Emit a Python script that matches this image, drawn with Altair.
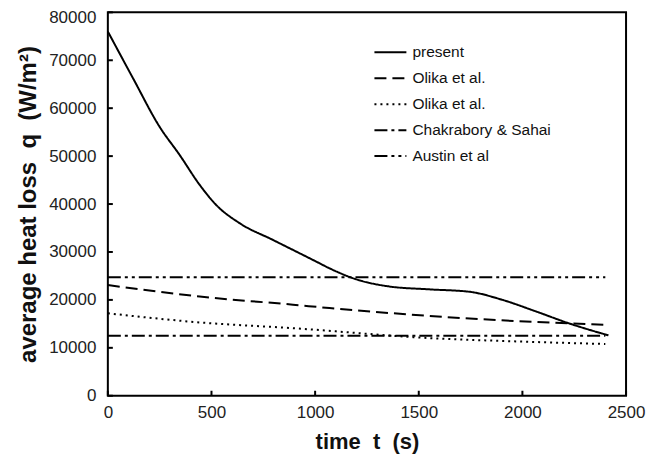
import altair as alt
import pandas as pd

# ---- data ----
present_t = [0, 122, 250, 347, 443, 523, 636, 797, 1005, 1069, 1198, 1358, 1551, 1744, 1904, 2065, 2225, 2415]
present_q = [76000, 66200, 56100, 50200, 44000, 39800, 36000, 32500, 28000, 26600, 24300, 22800, 22200, 21700, 20000, 17600, 15100, 12600]

olika1_t = [0, 443, 893, 1069, 1711, 2400]
olika1_q = [23100, 20700, 19000, 18300, 16200, 14800]

olika2_t = [0, 443, 893, 1565, 2000, 2400]
olika2_q = [17200, 15300, 14100, 12000, 11300, 10800]

chak_t = [0, 2400]
chak_q = [12500, 12500]

austin_t = [0, 2400]
austin_q = [24700, 24700]

series_names = ["present", "Olika et al.", "Olika et al. ", "Chakrabory & Sahai", "Austin et al"]
dash_styles = [[1, 0], [12, 6], [2, 4], [13, 4, 3, 4], [13, 4, 3, 4, 3, 4]]

x_ticks = [0, 500, 1000, 1500, 2000, 2500]
y_ticks = [0, 10000, 20000, 30000, 40000, 50000, 60000, 70000, 80000]

rows = []
for name, ts, qs in zip(series_names,
                        [present_t, olika1_t, olika2_t, chak_t, austin_t],
                        [present_q, olika1_q, olika2_q, chak_q, austin_q]):
    for i, (t, q) in enumerate(zip(ts, qs)):
        rows.append({"series": name, "t": t, "q": q, "order": i})
df = pd.DataFrame(rows)

W, H = 519, 384
FONT = "Liberation Sans"
SP = "\u00a0"

xscale = alt.Scale(domain=[0, 2500], nice=False, zero=False)
yscale = alt.Scale(domain=[0, 80000], nice=False)

lines = alt.Chart(df).mark_line(color="black", strokeWidth=2, interpolate="monotone").encode(
    x=alt.X("t:Q", scale=xscale,
            axis=alt.Axis(values=x_ticks, format="d", title=f"time{SP}{SP}t{SP}{SP}(s)", tickSize=0,
                          domain=False, grid=False, labelFontSize=17, labelFont=FONT, labelColor="#222",
                          labelPadding=9, titleFontSize=22, titleFont=FONT, titleFontWeight="bold",
                          titleColor="#111", titlePadding=11, labelFlush=False)),
    y=alt.Y("q:Q", scale=yscale,
            axis=alt.Axis(values=y_ticks, format="d",
                          title=f"average{SP}heat{SP}loss{SP}{SP}q{SP}{SP}(W/m²)", tickSize=0,
                          domain=False, grid=False, labelFontSize=17, labelFont=FONT, labelColor="#222",
                          labelPadding=12, titleFontSize=24, titleFont=FONT, titleFontWeight="bold",
                          titleColor="#111", titlePadding=8, labelFlush=False,
                          labelOffset={"condition": {"test": "datum.value == 80000", "value": 5}, "value": 0})),
    strokeDash=alt.StrokeDash("series:N",
                              scale=alt.Scale(domain=series_names, range=dash_styles),
                              sort=series_names,
                              legend=alt.Legend(title=None, orient="none", legendX=266, legendY=23,
                                                symbolType="stroke", symbolSize=1024,
                                                symbolStrokeWidth=2, symbolStrokeColor="black",
                                                labelFontSize=15.5, labelFont=FONT, labelColor="#111",
                                                labelOffset=5, rowPadding=-6, labelLimit=300)),
    order="order:Q",
)

ytick_df = pd.DataFrame({"q": y_ticks})
xtick_df = pd.DataFrame({"t": x_ticks})

yticks = alt.Chart(ytick_df).mark_rule(color="black", strokeWidth=2).encode(
    y=alt.Y("q:Q", scale=yscale), x=alt.value(0), x2=alt.value(5))
xticks = alt.Chart(xtick_df).mark_rule(color="black", strokeWidth=2).encode(
    x=alt.X("t:Q", scale=xscale), y=alt.value(H), y2=alt.value(H - 5))

chart = alt.layer(lines, yticks, xticks).properties(
    width=W, height=H,
    autosize=alt.AutoSizeParams(type="none"),
    padding={"left": 100, "top": 4, "right": 30, "bottom": 62},
).configure(background="white").configure_view(stroke="black", strokeWidth=2)

chart.save("out.html", embed_options={"renderer": "svg", "actions": False})
